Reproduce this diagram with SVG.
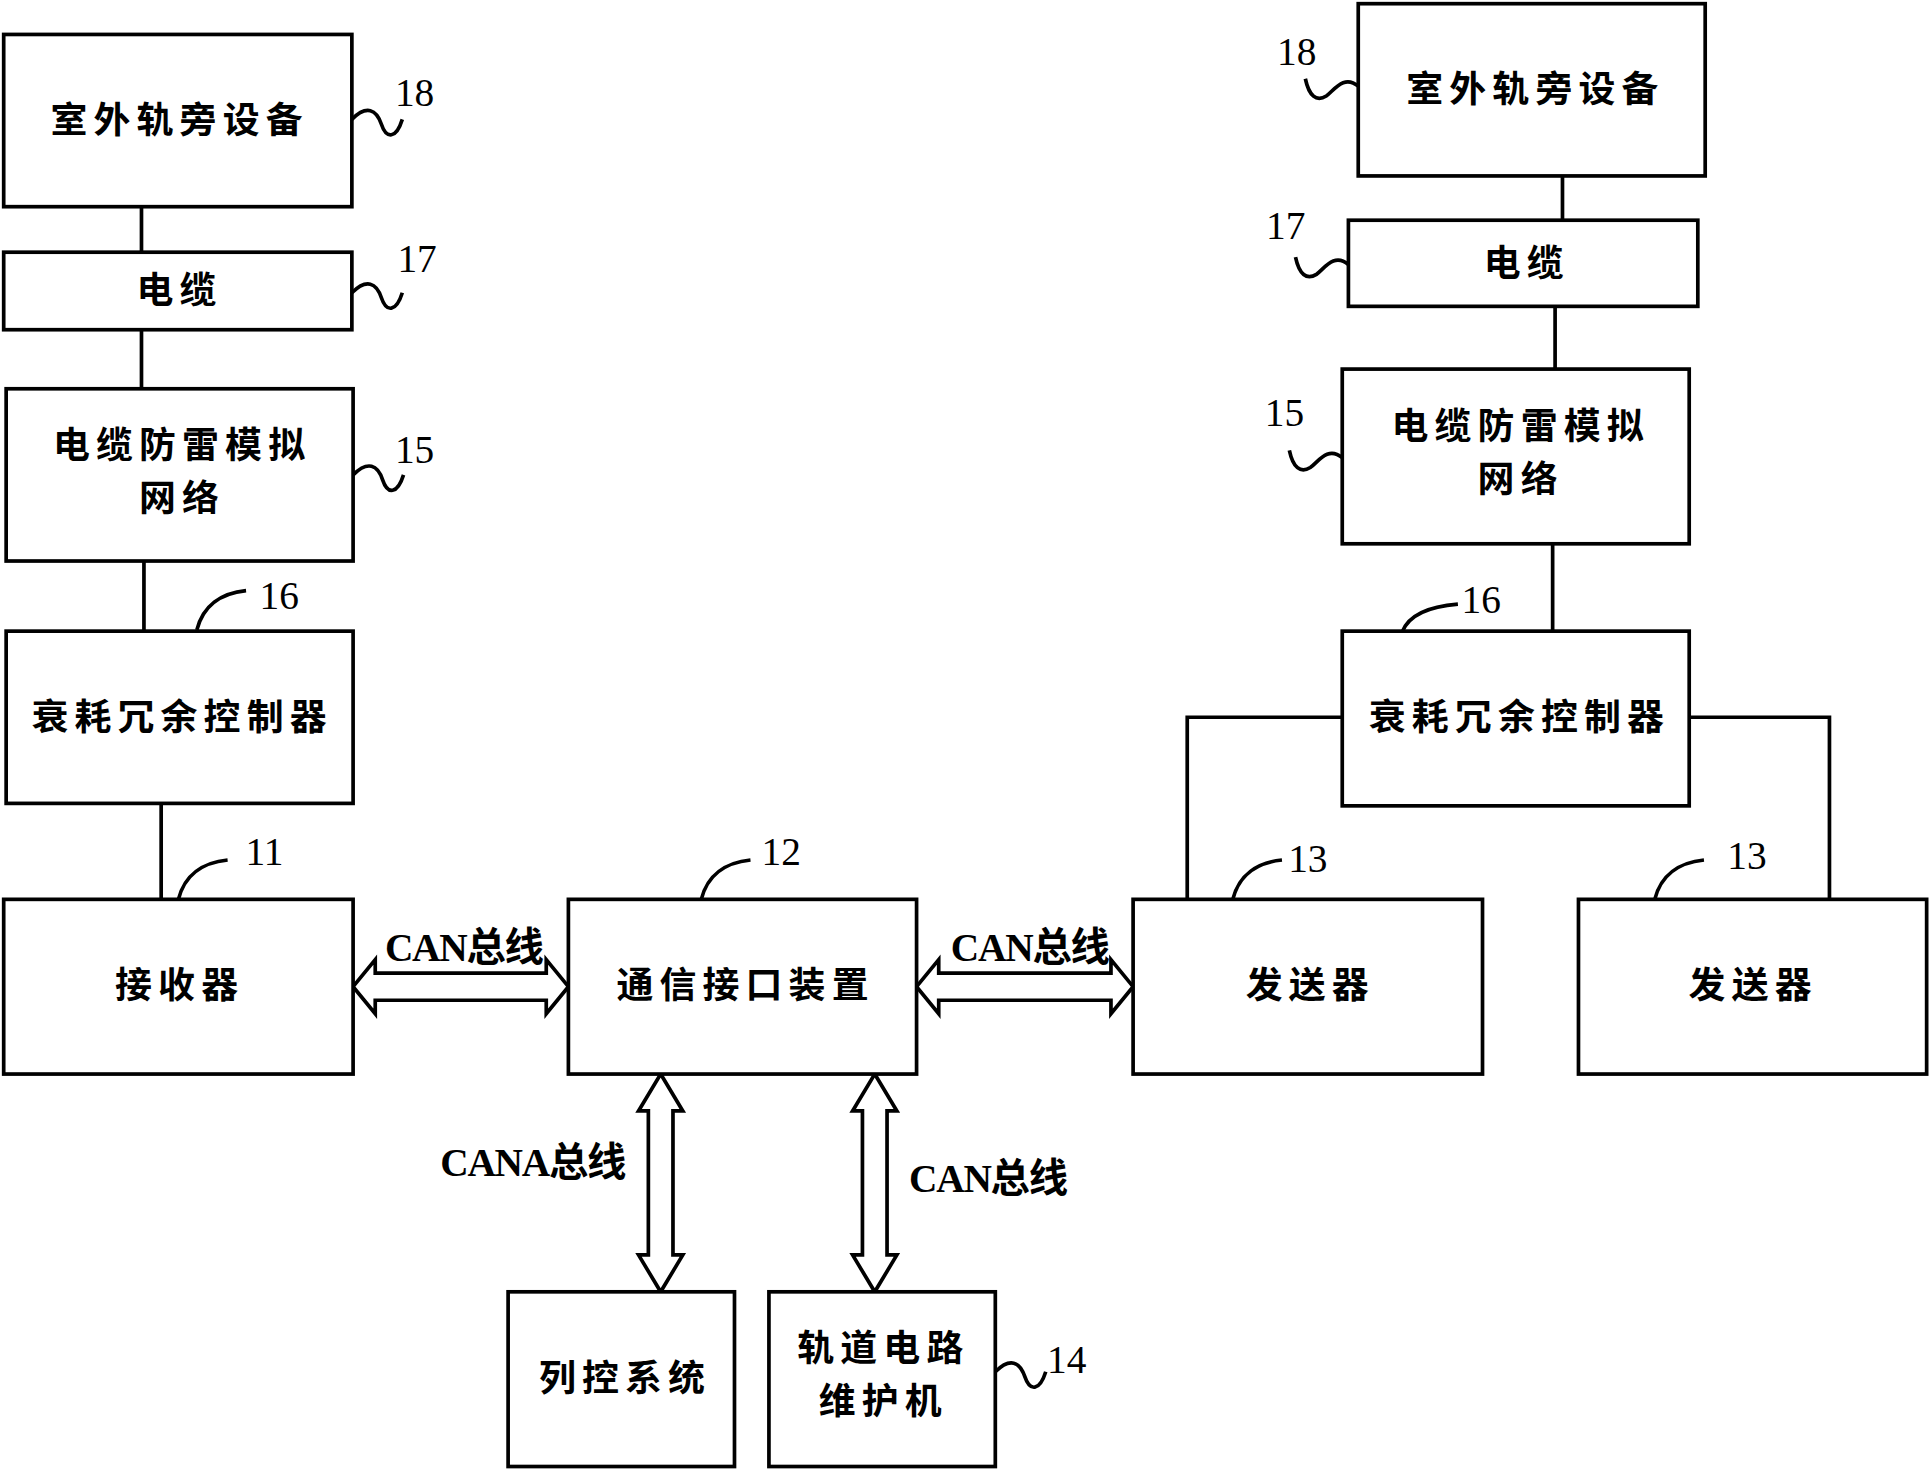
<svg xmlns="http://www.w3.org/2000/svg" width="1929" height="1469" viewBox="0 0 1929 1469">
<style>
rect{fill:#fff;stroke:#000;stroke-width:3}
.l{fill:none;stroke:#000;stroke-width:3}
.a{fill:#fff;stroke:#000;stroke-width:3;stroke-linejoin:miter}
.t{font-family:"Noto Sans CJK SC",sans-serif;font-weight:bold;font-size:30px;letter-spacing:5px;text-anchor:middle}
.n{font-family:"Liberation Serif","Noto Sans CJK SC",serif;font-size:32px;text-anchor:middle}
.c{font-family:"Liberation Serif","Noto Sans CJK SC",serif;font-weight:bold;font-size:32px;text-anchor:middle;letter-spacing:-1px}
</style>
<rect x="0" y="0" width="1929" height="1469" style="fill:#fff;stroke:none"/>
<g transform="scale(1.2303)">
<g id="connectors">
<path class="l" d="M115,168V205M115,268V316M117,456V513M131,653V731"/>
<path class="l" d="M1270,143V179M1264,249V300M1262,442V513M1091,583H965V731M1373,583H1487V731"/>
<path class="l" d="M286,97c12,-12 20,-8 24,4c4,12 12,12 17,-4M286,238c12,-12 20,-8 24,4c4,12 12,12 17,-4M287,386c12,-12 20,-8 24,4c4,12 12,12 17,-4"/>
<path class="l" d="M160,512c5,-20 20,-30 40,-32M145,731c5,-20 20,-30 40,-32M570,731c5,-20 20,-30 40,-32M1002,731c5,-20 20,-30 40,-32M1345,731c5,-20 20,-30 40,-32M1140,513c5,-12 20,-20 45,-22"/>
<path class="l" d="M1104,70c-12,-10 -20,4 -26,8c-8,5 -14,0 -17,-14M1096,215c-12,-10 -20,4 -26,8c-8,5 -14,0 -17,-14M1091,372c-12,-10 -20,4 -26,8c-8,5 -14,0 -17,-14"/>
<path class="l" d="M809,1115c12,-12 20,-8 24,4c4,12 12,12 17,-4"/>
<polygon class="a" points="287,802 305,780 305,791 444,791 444,780 462,802 444,824 444,813 305,813 305,824"/>
<polygon class="a" points="745,802 763,780 763,791 903,791 903,780 921,802 903,824 903,813 763,813 763,824"/>
<polygon class="a" points="537,873 555,903 547,903 547,1020 555,1020 537,1050 519,1020 527,1020 527,903 519,903"/>
<polygon class="a" points="711,873 729,903 721,903 721,1020 729,1020 711,1050 693,1020 701,1020 701,903 693,903"/>
<text class="c" x="377" y="781">CAN总线</text>
<text class="c" x="837" y="781">CAN总线</text>
<text class="c" x="433" y="956">CANA总线</text>
<text class="c" x="803" y="969">CAN总线</text>
</g>
<g id="n18L"><rect x="3" y="28" width="283" height="140"/><text class="t" x="146" y="108">室外轨旁设备</text><text class="n" x="337" y="86">18</text></g>
<g id="n17L"><rect x="3" y="205" width="283" height="63"/><text class="t" x="146" y="246">电缆</text><text class="n" x="339" y="221">17</text></g>
<g id="n15L"><rect x="5" y="316" width="282" height="140"/><text class="t" x="148" y="372">电缆防雷模拟</text><text class="t" x="148" y="415">网络</text><text class="n" x="337" y="376">15</text></g>
<g id="n16L"><rect x="5" y="513" width="282" height="140"/><text class="t" x="148" y="593">衰耗冗余控制器</text><text class="n" x="227" y="495">16</text></g>
<g id="n11"><rect x="3" y="731" width="284" height="142"/><text class="t" x="146" y="811">接收器</text><text class="n" x="215" y="703">11</text></g>
<g id="n12"><rect x="462" y="731" width="283" height="142"/><text class="t" x="606" y="811">通信接口装置</text><text class="n" x="635" y="703">12</text></g>
<g id="n13a"><rect x="921" y="731" width="284" height="142"/><text class="t" x="1065" y="811">发送器</text><text class="n" x="1063" y="709">13</text></g>
<g id="n13b"><rect x="1283" y="731" width="283" height="142"/><text class="t" x="1425" y="811">发送器</text><text class="n" x="1420" y="706">13</text></g>
<g id="n18R"><rect x="1104" y="3" width="282" height="140"/><text class="t" x="1248" y="83">室外轨旁设备</text><text class="n" x="1054" y="53">18</text></g>
<g id="n17R"><rect x="1096" y="179" width="284" height="70"/><text class="t" x="1241" y="224">电缆</text><text class="n" x="1045" y="194">17</text></g>
<g id="n15R"><rect x="1091" y="300" width="282" height="142"/><text class="t" x="1236" y="357">电缆防雷模拟</text><text class="t" x="1236" y="400">网络</text><text class="n" x="1044" y="346">15</text></g>
<g id="n16R"><rect x="1091" y="513" width="282" height="142"/><text class="t" x="1235" y="593">衰耗冗余控制器</text><text class="n" x="1204" y="498">16</text></g>
<g id="n_lk"><rect x="413" y="1050" width="184" height="142"/><text class="t" x="508" y="1131">列控系统</text></g>
<g id="n14"><rect x="625" y="1050" width="184" height="142"/><text class="t" x="718" y="1106">轨道电路</text><text class="t" x="718" y="1149">维护机</text><text class="n" x="867" y="1116">14</text></g>
</g>
</svg>
